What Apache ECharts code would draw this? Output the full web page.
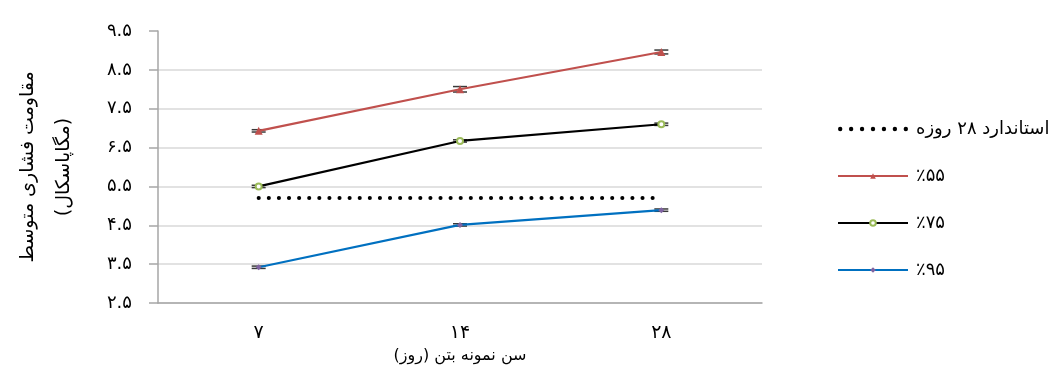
<!DOCTYPE html>
<html>
<head>
<meta charset="utf-8">
<script src="https://cdn.jsdelivr.net/npm/echarts@6/dist/echarts.min.js"></script>
<style>
  html, body { margin: 0; padding: 0; background: #fff; }
  #chart { width: 1057px; height: 368px; }
</style>
</head>
<body>
<div id="chart"></div>
<script>
// Concrete age (days) on the x axis
const categories = ['۷', '۱۴', '۲۸'];

// Y axis tick labels, 2.5 to 9.5 MPa
const yTickLabels = ['۲.۵', '۳.۵', '۴.۵', '۵.۵', '۶.۵', '۷.۵', '۸.۵', '۹.۵'];

// 28-day standard strength
const standard28 = [5.2, 5.2, 5.2];

// Mean compressive strength per mix, with error half-widths
const mix55 = [6.93, 8.0, 8.96];
const err55 = [0.03, 0.07, 0.05];
const mix75 = [5.5, 6.67, 7.1];
const err75 = [0.03, 0.03, 0.03];
const mix95 = [3.42, 4.51, 4.89];
const err95 = [0.03, 0.03, 0.03];

const seriesNames = ['استاندارد ۲۸ روزه', '٪۵۵', '٪۷۵', '٪۹۵'];

const RLM = '\u200F';
const FONT = 'DejaVu Sans';

// Row of seven dots used as the legend icon of the dotted standard line
function dotRowPath(n, r, step) {
  let d = '';
  for (let i = 0; i < n; i++) {
    const cx = r + i * step;
    d += 'M' + (cx - r) + ',' + r + ' a' + r + ',' + r + ' 0 1,0 ' + (2 * r) + ',0 a' + r + ',' + r + ' 0 1,0 ' + (-2 * r) + ',0 ';
  }
  return 'path://' + d;
}

function errorData(values, errs) {
  return values.map((v, i) => [i, v - errs[i], v + errs[i]]);
}

function renderErrorBar(params, api) {
  const x = api.value(0);
  const lo = api.coord([x, api.value(1)]);
  const hi = api.coord([x, api.value(2)]);
  const half = 7;
  const style = { stroke: '#3a3a3a', lineWidth: 1.5 };
  return {
    type: 'group',
    children: [
      { type: 'line', shape: { x1: lo[0], y1: lo[1], x2: hi[0], y2: hi[1] }, style },
      { type: 'line', shape: { x1: hi[0] - half, y1: hi[1], x2: hi[0] + half, y2: hi[1] }, style },
      { type: 'line', shape: { x1: lo[0] - half, y1: lo[1], x2: lo[0] + half, y2: lo[1] }, style }
    ]
  };
}

function errorSeries(values, errs) {
  return {
    type: 'custom',
    renderItem: renderErrorBar,
    data: errorData(values, errs),
    silent: true,
    z: 1,
    encode: { x: 0, y: [1, 2] }
  };
}

// Gridline colours per tick, from 2.5 up; the top line is left out
const gridColors = ['#d9d9d9', '#d9d9d9', '#d9d9d9', '#d9d9d9', '#d9d9d9', '#d9d9d9', '#d9d9d9', 'rgba(0,0,0,0)'];

const chart = echarts.init(document.getElementById('chart'), null, { renderer: 'canvas' });

chart.setOption({
  animation: false,
  textStyle: { fontFamily: FONT },
  grid: { left: 158, right: 295, top: 31, bottom: 65, containLabel: false, outerBoundsMode: 'none' },
  legend: {
    data: [
      { name: seriesNames[0], icon: dotRowPath(7, 2, 10) },
      { name: seriesNames[1] },
      { name: seriesNames[2] },
      { name: seriesNames[3] }
    ],
    orient: 'vertical',
    left: 832,
    top: 115,
    itemWidth: 70,
    itemHeight: 7,
    itemGap: 29,
    textStyle: { fontFamily: FONT, fontSize: 18, color: '#000', padding: [0, 0, 0, 3] }
  },
  xAxis: {
    type: 'category',
    data: categories,
    boundaryGap: true,
    name: RLM + 'سن نمونه بتن (روز)' + RLM,
    nameLocation: 'middle',
    nameGap: 43,
    nameTextStyle: { fontFamily: FONT, fontSize: 16, color: '#000' },
    axisLine: { lineStyle: { color: '#a6a6a6', width: 1.5 } },
    axisTick: { show: false },
    axisLabel: { fontFamily: FONT, fontSize: 19, color: '#000', margin: 21 }
  },
  yAxis: {
    type: 'value',
    min: 2.5,
    max: 9.5,
    interval: 1,
    name: 'مقاومت فشاری متوسط\n' + RLM + '(مگاپاسکال)' + RLM,
    nameLocation: 'middle',
    nameRotate: 90,
    nameGap: 76,
    nameTextStyle: { fontFamily: FONT, fontSize: 19, color: '#000', lineHeight: 36 },
    axisLine: { show: true, lineStyle: { color: '#a6a6a6', width: 1.5 } },
    axisTick: { show: true, length: 9, lineStyle: { color: '#a6a6a6', width: 1.5 } },
    axisLabel: {
      fontFamily: FONT, fontSize: 18, color: '#000', margin: 26,
      formatter: v => yTickLabels[Math.round(v - 2.5)]
    },
    splitLine: { show: true, lineStyle: { color: gridColors, width: 1.5 } }
  },
  series: [
    {
      name: seriesNames[0],
      type: 'line',
      data: standard28,
      symbol: 'none',
      itemStyle: { color: '#000' },
      lineStyle: { color: '#000', width: 4, type: [0.1, 10], cap: 'round' },
      z: 2
    },
    {
      name: seriesNames[1],
      type: 'line',
      data: mix55,
      symbol: 'triangle',
      symbolSize: 8,
      itemStyle: { color: '#c0504d' },
      lineStyle: { color: '#c0504d', width: 2.2 },
      z: 3
    },
    {
      name: seriesNames[2],
      type: 'line',
      data: mix75,
      symbol: 'emptyCircle',
      symbolSize: 6,
      itemStyle: { color: '#9bbb59', borderColor: '#9bbb59', borderWidth: 1.5 },
      lineStyle: { color: '#000', width: 2.2 },
      z: 3
    },
    {
      name: seriesNames[3],
      type: 'line',
      data: mix95,
      symbol: 'diamond',
      symbolSize: 6,
      itemStyle: { color: '#8064a2' },
      lineStyle: { color: '#0070c0', width: 2.2 },
      z: 3
    },
    errorSeries(mix55, err55),
    errorSeries(mix75, err75),
    errorSeries(mix95, err95)
  ]
});
</script>
</body>
</html>
